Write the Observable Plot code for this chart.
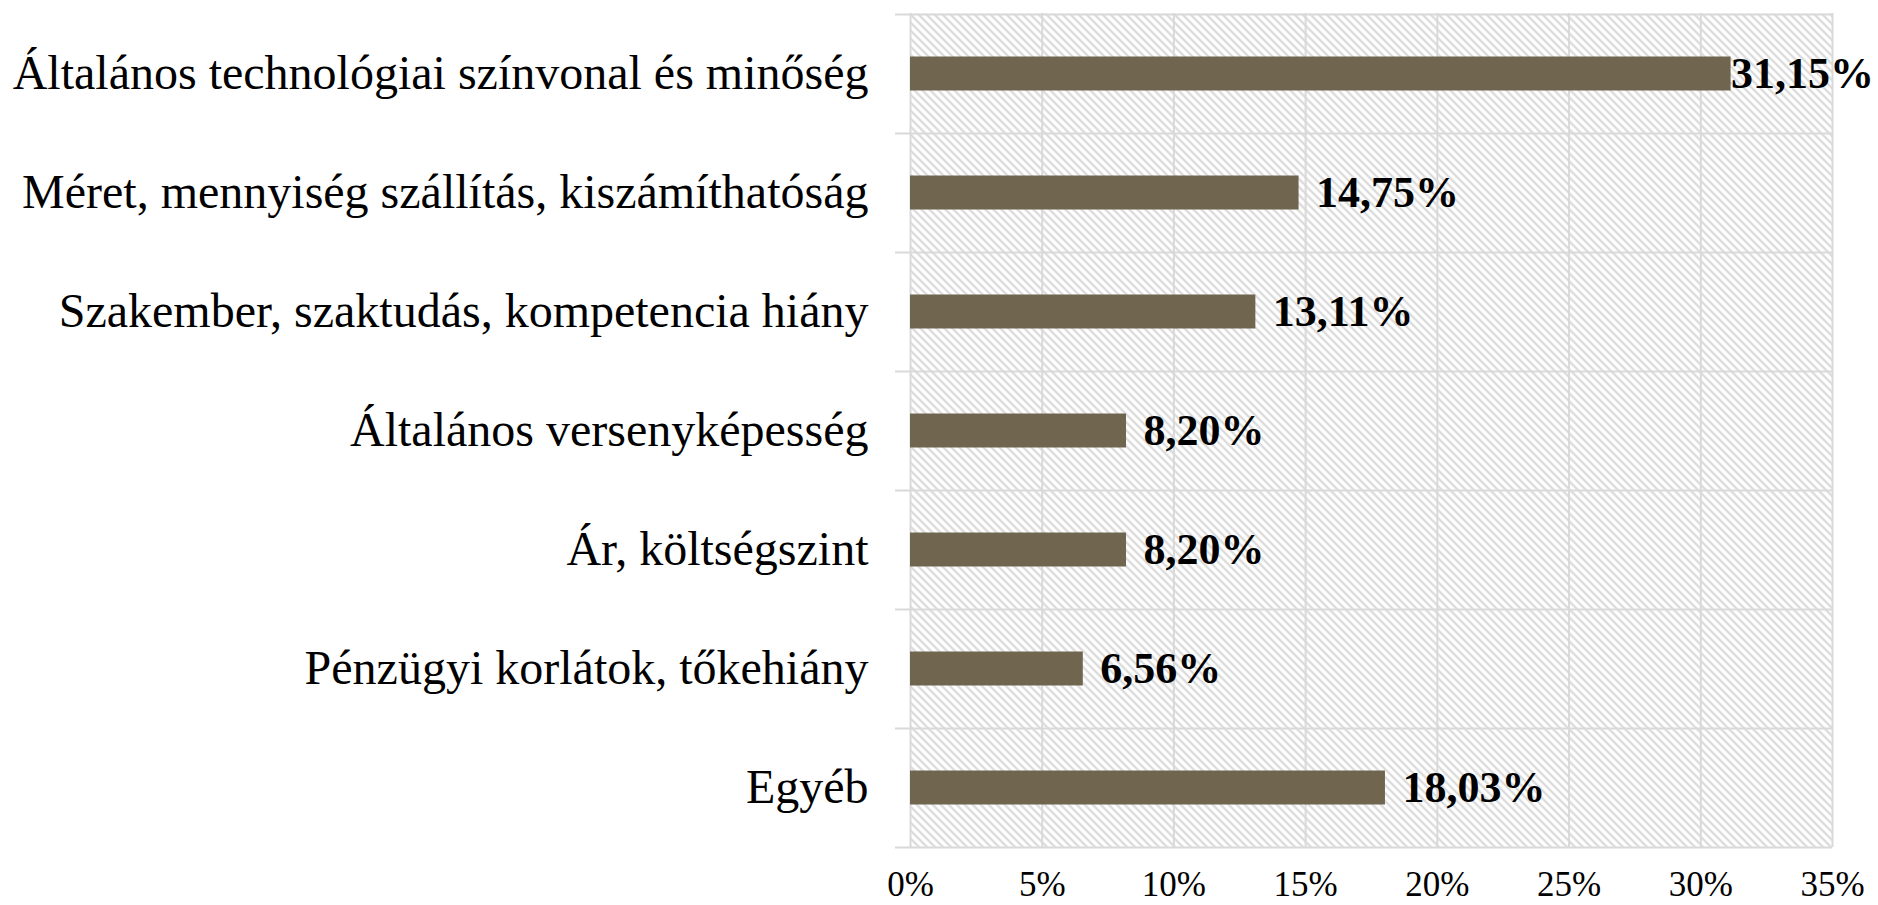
<!DOCTYPE html>
<html>
<head>
<meta charset="utf-8">
<script src="https://cdn.jsdelivr.net/npm/d3@7"></script>
<script src="https://cdn.jsdelivr.net/npm/@observablehq/plot@0.6"></script>
<style>
  html, body { margin: 0; padding: 0; background: #ffffff; }
  #chart svg { display: block; }
</style>
</head>
<body>
<div id="chart"></div>
<script>
const categories = [
  "Általános technológiai színvonal és minőség",
  "Méret, mennyiség szállítás, kiszámíthatóság",
  "Szakember, szaktudás, kompetencia hiány",
  "Általános versenyképesség",
  "Ár, költségszint",
  "Pénzügyi korlátok, tőkehiány",
  "Egyéb"
];
const values = [31.15, 14.75, 13.11, 8.20, 8.20, 6.56, 18.03];
const xTicks = [0, 5, 10, 15, 20, 25, 30, 35];

const data = categories.map((c, i) => ({cat: c, value: values[i]}));
const fmt = v => v.toFixed(2).replace(".", ",") + "%";

const W = 1878, H = 905, mT = 13, mB = 58, mL = 910, mR = 46;
const step = (H - mT - mB) / categories.length;
const gridColor = "#d9d9d9";
const barColor = "#706650";

const svg = Plot.plot({
  width: W,
  height: H,
  marginTop: mT,
  marginBottom: mB,
  marginLeft: mL,
  marginRight: mR,
  style: {
    fontFamily: "'Liberation Serif', 'Times New Roman', serif",
    background: "#ffffff",
    color: "#000000"
  },
  x: {domain: [0, 35], ticks: xTicks},
  y: {domain: categories, padding: 0},
  marks: [
    Plot.frame({fill: "url(#hatch)", stroke: "none"}),
    Plot.gridX(xTicks, {stroke: gridColor, strokeOpacity: 1, strokeWidth: 2}),
    Plot.ruleY(data, {y: "cat", dy: -step / 2, stroke: gridColor, strokeWidth: 2, insetLeft: -15}),
    Plot.ruleY(data.slice(-1), {y: "cat", dy: step / 2, stroke: gridColor, strokeWidth: 2, insetLeft: -15}),
    Plot.barX(data, {x: "value", y: "cat", fill: barColor, insetTop: 42.5, insetBottom: 42.5}),
    Plot.text(data.filter(d => d.value < 30), {
      x: "value", y: "cat", text: d => fmt(d.value),
      textAnchor: "start", dx: 17, fontWeight: "bold", fontSize: 44, fill: "#000000"
    }),
    Plot.text(data.filter(d => d.value >= 30), {
      x: "value", y: "cat", text: d => fmt(d.value),
      textAnchor: "start", dx: 0, fontWeight: "bold", fontSize: 44, fill: "#000000"
    }),
    Plot.axisX(xTicks, {tickSize: 0, tickPadding: 24, fontSize: 35, label: null, tickFormat: d => d + "%"}),
    Plot.axisY({tickSize: 0, tickPadding: 42, fontSize: 48, label: null})
  ]
});

const defs = d3.select(svg).insert("defs", ":first-child");
const pat = defs.append("pattern")
  .attr("id", "hatch")
  .attr("patternUnits", "userSpaceOnUse")
  .attr("width", 8)
  .attr("height", 8);
pat.append("rect").attr("width", 8).attr("height", 8).attr("fill", "#ffffff");
pat.append("path")
  .attr("d", "M-2,-2L10,10M-2,6L2,10M6,-2L10,2")
  .attr("stroke", "#d6d6d6")
  .attr("stroke-width", 2);

document.getElementById("chart").appendChild(svg);
</script>
</body>
</html>
